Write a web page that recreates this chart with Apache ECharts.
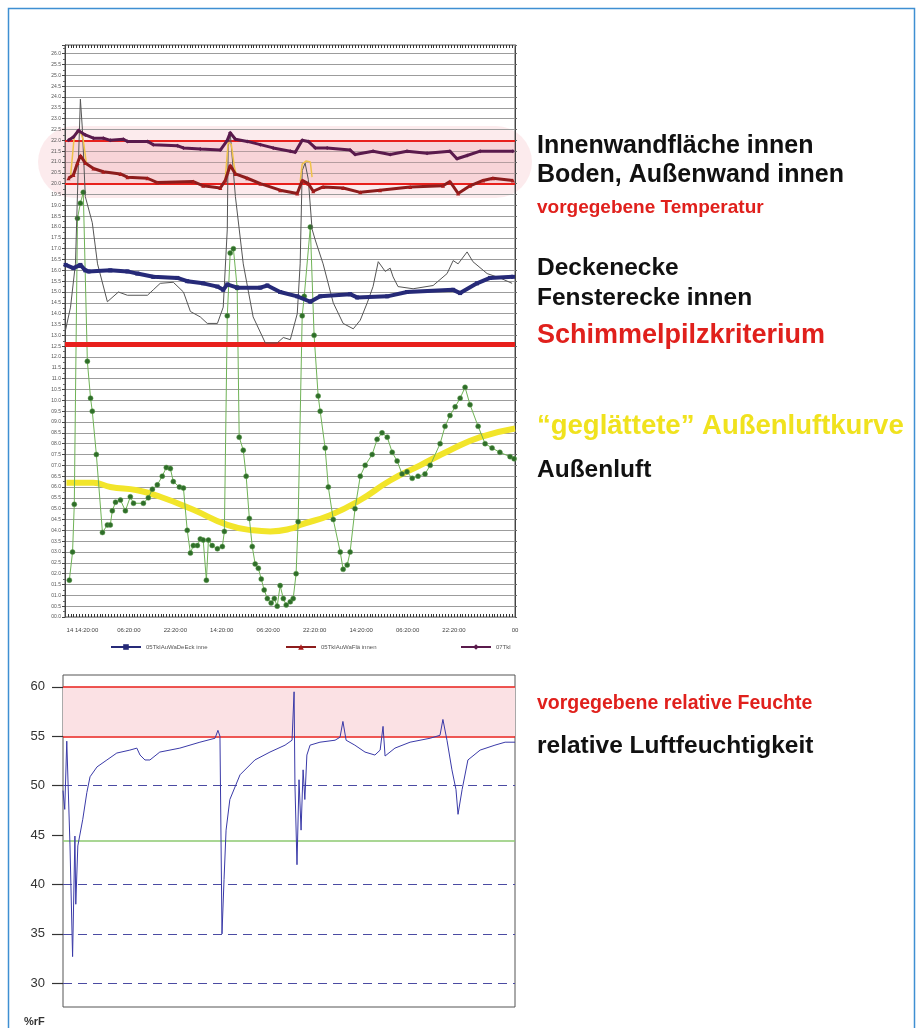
<!DOCTYPE html>
<html>
<head>
<meta charset="utf-8">
<title>Temperatur- und Feuchteverlauf</title>
<script src="https://cdn.jsdelivr.net/npm/echarts@6/dist/echarts.min.js"></script>
<style>
  html, body { margin: 0; padding: 0; background: #fff; }
  #chart { width: 923px; height: 1028px; }
</style>
</head>
<body>
<div id="chart"></div>
<script>
// x values: hours after the first labelled tick (14. 14:20:00)
const timeTicks = [0, 16, 32, 48, 64, 80, 96, 112, 128, 149];
const timeLabels = ['14 14:20:00', '06:20:00', '22:20:00', '14:20:00', '06:20:00',
  '22:20:00', '14:20:00', '06:20:00', '22:20:00', '00'];

const rhTicks = [30, 35, 40, 45, 50, 55, 60];

// 07Tkl - Innenwandfläche innen
const innenwandData = [
  [-4.8, 22.0], [-3.1, 22.15], [-1.4, 22.45], [1.0, 22.25], [3.8, 22.1], [7.2, 22.1],
  [9.6, 22.0], [14.1, 22.05], [15.5, 21.95], [22.4, 21.95], [24.4, 21.8], [32.7, 21.75],
  [34.8, 21.65], [40.6, 21.6], [47.5, 21.55], [49.9, 22.0], [50.9, 22.35], [52.7, 22.05],
  [56.8, 21.95], [61.3, 21.8], [65.7, 21.65], [71.6, 21.5], [73.3, 21.45], [75.7, 22.0],
  [77.8, 21.95], [80.2, 21.65], [84.3, 21.65], [92.2, 21.55], [93.9, 21.35], [100.1, 21.5],
  [106.0, 21.35], [111.8, 21.5], [118.7, 21.4], [126.6, 21.5], [129.0, 21.15], [132.5, 21.3],
  [137.0, 21.5], [148.3, 21.5]
];

// 05TklAuWaFlä innen - Boden, Außenwand innen
const bodenData = [
  [-4.8, 20.25], [-3.1, 20.4], [-1.7, 20.95], [-0.7, 21.3], [1.0, 20.95], [3.8, 20.7],
  [7.2, 20.55], [13.1, 20.45], [15.5, 20.3], [22.4, 20.25], [25.8, 20.05], [38.2, 20.1],
  [41.6, 19.9], [47.5, 19.8], [49.2, 20.15], [50.9, 20.85], [52.7, 20.45], [56.8, 20.25],
  [61.3, 20.0], [68.1, 19.7], [74.0, 19.55], [75.7, 20.15], [77.8, 20.0], [79.5, 19.65],
  [82.9, 19.85], [89.8, 19.8], [95.7, 19.6], [102.5, 19.7], [112.9, 19.85], [124.2, 19.9],
  [126.6, 20.1], [129.4, 19.55], [133.5, 19.9], [138.0, 20.15], [141.4, 20.25], [148.3, 20.15]
];

// 05TklAuWaDeEck inne - Deckenecke
const deckeneckeData = [
  [-5.8, 16.25], [-3.1, 16.1], [-0.7, 16.25], [1.0, 16.0], [2.1, 15.95], [9.6, 16.0],
  [15.5, 15.95], [18.9, 15.85], [24.4, 15.7], [32.7, 15.65], [36.1, 15.5], [41.6, 15.4],
  [46.5, 15.25], [48.5, 15.1], [49.9, 15.35], [53.3, 15.2], [61.3, 15.2], [63.7, 15.3],
  [68.1, 15.0], [74.0, 14.8], [78.5, 14.55], [81.9, 14.8], [92.2, 14.9], [94.6, 14.75],
  [105.0, 14.8], [111.8, 15.0], [127.7, 15.1], [130.1, 14.95], [135.9, 15.4], [140.4, 15.65],
  [148.3, 15.7]
];

// Fensterecke innen
const fensterData = [
  [-5.8, 13.25], [-4.1, 14.3], [-2.4, 16.3], [-1.4, 20.9], [-0.7, 23.9], [0.0, 22.5],
  [1.0, 19.4], [3.4, 18.2], [5.2, 16.3], [8.6, 14.55], [12.4, 15.0], [15.5, 14.85],
  [22.4, 14.85], [24.4, 15.1], [26.8, 15.4], [31.3, 15.45], [34.8, 15.0], [37.2, 14.1],
  [40.6, 13.85], [43.0, 13.55], [46.5, 13.55], [48.5, 14.3], [49.9, 17.9], [50.2, 21.7],
  [50.9, 22.35], [52.7, 19.4], [55.4, 16.3], [58.8, 13.85], [63.0, 12.65], [67.1, 12.65],
  [69.2, 12.9], [71.6, 12.8], [74.0, 14.0], [75.0, 16.3], [75.7, 20.6], [76.7, 20.95],
  [77.8, 20.2], [79.1, 17.9], [80.2, 17.4], [82.9, 16.3], [86.4, 14.5], [89.8, 13.55],
  [93.3, 13.3], [95.7, 13.7], [98.1, 14.5], [100.1, 15.25], [101.9, 16.4], [104.3, 15.95],
  [106.0, 16.1], [107.0, 15.7], [108.7, 15.25], [113.9, 15.15], [120.8, 15.3], [125.6, 15.85],
  [127.7, 16.45], [129.4, 16.3], [132.5, 16.85], [134.5, 16.4], [139.4, 15.85], [143.8, 15.65],
  [148.0, 15.4]
];

// Außenluft
const aussenluftData = [
  [-4.5, 1.7], [-3.4, 3.0], [-2.8, 5.2], [-1.7, 18.4], [-0.7, 19.1], [0.3, 19.6], [1.7, 11.8],
  [2.8, 10.1], [3.4, 9.5], [4.8, 7.5], [6.9, 3.9], [8.6, 4.25], [9.6, 4.25], [10.3, 4.9],
  [11.4, 5.3], [13.1, 5.4], [14.8, 4.9], [16.5, 5.55], [17.6, 5.25], [21.0, 5.25], [22.7, 5.5],
  [24.1, 5.9], [25.8, 6.1], [27.5, 6.5], [28.9, 6.9], [30.3, 6.85], [31.3, 6.25], [33.4, 6.0],
  [34.8, 5.95], [36.1, 4.0], [37.2, 2.95], [38.2, 3.3], [39.6, 3.3], [40.6, 3.6], [41.6, 3.55],
  [42.7, 1.7], [43.4, 3.55], [44.7, 3.3], [46.5, 3.15], [48.2, 3.25], [48.9, 3.95], [49.9, 13.9],
  [50.9, 16.8], [52.0, 17.0], [53.3, 15.2], [54.0, 8.3], [55.4, 7.7], [56.4, 6.5], [57.5, 4.55],
  [58.5, 3.25], [59.5, 2.45], [60.6, 2.25], [61.6, 1.75], [62.6, 1.25], [63.7, 0.85], [65.0, 0.65],
  [66.1, 0.85], [67.1, 0.5], [68.1, 1.45], [69.2, 0.85], [70.2, 0.55], [71.6, 0.7], [72.6, 0.85],
  [73.6, 2.0], [74.3, 4.4], [75.7, 13.9], [76.4, 14.8], [78.5, 18.0], [79.8, 13.0], [81.2, 10.2],
  [81.9, 9.5], [83.6, 7.8], [84.7, 6.0], [86.4, 4.5], [88.8, 3.0], [89.8, 2.2], [91.2, 2.4],
  [92.2, 3.0], [93.9, 5.0], [95.7, 6.5], [97.4, 7.0], [99.8, 7.5], [101.5, 8.2], [103.2, 8.5],
  [105.0, 8.3], [106.7, 7.6], [108.4, 7.2], [110.1, 6.6], [111.8, 6.7], [113.6, 6.4], [115.6, 6.5],
  [118.0, 6.6], [119.8, 7.0], [123.2, 8.0], [124.9, 8.8], [126.6, 9.3], [128.4, 9.7], [130.1, 10.1],
  [131.8, 10.6], [133.5, 9.8], [136.3, 8.8], [138.7, 8.0], [141.1, 7.8], [143.8, 7.6], [147.3, 7.4],
  [148.7, 7.3]
];

// "geglättete" Außenluftkurve
const glattData = [
  [-5.5, 6.2], [3.8, 6.2], [9.6, 6.0], [18.9, 5.85], [26.8, 5.55], [38.2, 4.95], [49.9, 4.25],
  [58.8, 4.0], [64.7, 3.95], [72.6, 4.1], [75.0, 4.25], [85.3, 4.7], [95.7, 5.4], [106.0, 6.3],
  [116.3, 7.0], [126.6, 7.7], [137.0, 8.3], [149.0, 8.7]
];

// thin yellow curve, only visible at the three heating peaks
const peakSegments = [
  [[-4.1, 20.3], [-2.8, 22.2], [-1.7, 22.35], [-0.7, 22.4], [0.3, 22.0], [1.4, 20.9]],
  [[49.2, 20.2], [50.2, 21.9], [51.3, 21.8], [52.3, 20.8], [53.0, 20.4]],
  [[75.0, 20.1], [75.7, 20.9], [77.1, 21.05], [78.5, 21.0], [79.1, 20.3]]
];

const tempBand = [20, 22];
const schimmelLevel = 12.6;

// relative Luftfeuchtigkeit
const rhData = [
  [-6.5, 49.5], [-5.9, 47.6], [-5.2, 54.5], [-4.1, 44.0], [-3.2, 32.7], [-2.4, 44.9],
  [-2.1, 38.0], [-1.4, 43.9], [0.3, 46.6], [1.7, 49.3], [2.8, 50.9], [5.2, 51.9], [8.6, 52.6],
  [12.0, 53.3], [16.5, 53.6], [18.9, 53.8], [20.0, 53.1], [21.7, 52.6], [23.4, 52.6], [26.8, 53.4],
  [33.7, 53.8], [40.6, 54.4], [45.8, 54.8], [46.8, 55.6], [47.5, 55.0], [48.2, 35.0], [48.9, 40.5],
  [49.6, 45.5], [50.9, 48.6], [54.4, 51.1], [59.5, 52.6], [64.7, 53.4], [69.9, 54.1], [72.3, 54.6],
  [73.0, 59.5], [73.3, 50.0], [74.0, 42.0], [74.7, 50.6], [75.4, 45.5], [76.1, 51.6], [76.7, 48.6],
  [77.4, 53.1], [78.5, 54.1], [81.9, 54.4], [87.1, 54.6], [88.8, 54.9], [89.8, 56.5], [90.9, 54.6],
  [93.9, 54.1], [97.4, 53.4], [100.8, 53.1], [102.6, 53.6], [103.6, 56.0], [104.3, 53.0],
  [107.7, 53.8], [112.9, 54.4], [119.8, 54.8], [123.2, 55.1], [124.2, 56.7], [125.6, 54.6],
  [127.3, 51.6], [128.7, 49.6], [129.4, 47.1], [130.8, 49.6], [132.8, 52.6], [137.0, 53.6],
  [142.1, 54.1], [145.6, 54.4], [149.0, 54.4]
];

const rhBand = [55, 60];
const rhGreenLevel = 44.4;
const rhDashLevels = [50, 40, 35, 30];

const chart = echarts.init(document.getElementById('chart'));

const labelByTime = {};
timeTicks.forEach((t, i) => { labelByTime[t] = timeLabels[i]; });

// small hourly ticks along the time axis
const hourTicks = [];
for (let h = -5; h <= 148; h++) hourTicks.push(h);

const fmtTemp = v => {
  if (Math.abs(v * 2 - Math.round(v * 2)) > 1e-6) return '';
  const s = v.toFixed(1);
  return v < 10 ? '0' + s : s;
};

const FONT = '"Liberation Sans", Arial, sans-serif';

const sideText = (text, y, size, color) => ({
  type: 'text',
  left: 537,
  top: y - size / 2,
  style: { text, fill: color, font: `bold ${size}px ${FONT}` }
});

const legendBase = {
  top: 639,
  itemWidth: 30,
  itemHeight: 7,
  textStyle: { fontSize: 6, color: '#555', fontFamily: FONT }
};

const option = {
  backgroundColor: '#fff',
  animation: false,
  textStyle: { fontFamily: FONT },
  graphic: [
    {
      type: 'rect', z: -1, silent: true,
      shape: { x: 8.5, y: 8.5, width: 906, height: 1040 },
      style: { fill: 'none', stroke: '#3f8fd2', lineWidth: 1.5 }
    },
    {
      type: 'rect', z: -1, silent: true,
      shape: { x: 38, y: 126, width: 494, height: 72, r: 36 },
      style: { fill: 'rgba(240,165,175,0.22)' }
    },
    sideText('Innenwandfläche innen', 146, 25, '#111'),
    sideText('Boden, Außenwand innen', 175, 25, '#111'),
    sideText('vorgegebene Temperatur', 208, 19, '#e0201c'),
    sideText('Deckenecke', 268, 24.5, '#111'),
    sideText('Fensterecke innen', 298, 24.5, '#111'),
    sideText('Schimmelpilzkriterium', 336, 27, '#e0201c'),
    sideText('\u201Cgeglättete\u201D Außenluftkurve', 426, 27.5, '#f0e21e'),
    sideText('Außenluft', 470, 24.5, '#111'),
    sideText('vorgegebene relative Feuchte', 703, 19.5, '#e0201c'),
    sideText('relative Luftfeuchtigkeit', 746, 24.5, '#111'),
    {
      type: 'text', left: 24, top: 1016,
      style: { text: '%rF', fill: '#333', font: `bold 11px ${FONT}` }
    }
  ],
  legend: [
    Object.assign({ left: 105, data: ['05TklAuWaDeEck inne'] }, legendBase),
    Object.assign({ left: 280, data: ['05TklAuWaFlä innen'] }, legendBase),
    Object.assign({ left: 455, data: ['07Tkl'] }, legendBase)
  ],
  grid: [
    { left: 65, top: 45, width: 450, height: 572, show: true, borderColor: '#555', borderWidth: 1 },
    { left: 63, top: 675, width: 452, height: 332, show: true, borderColor: '#555', borderWidth: 1 }
  ],
  xAxis: [
    {
      gridIndex: 0, type: 'value', min: -6, max: 149, position: 'bottom',
      axisLine: { show: false, onZero: false },
      axisTick: { show: true, inside: true, length: 3, customValues: hourTicks,
        lineStyle: { color: '#333' } },
      axisLabel: { customValues: timeTicks, formatter: v => labelByTime[v] || '',
        fontSize: 6, color: '#444', margin: 10 },
      splitLine: { show: false }
    },
    {
      gridIndex: 0, type: 'value', min: -6, max: 149, position: 'top',
      axisLine: { show: false, onZero: false },
      axisTick: { show: true, inside: true, length: 3, customValues: hourTicks,
        lineStyle: { color: '#333' } },
      axisLabel: { show: false },
      splitLine: { show: false }
    },
    { gridIndex: 1, type: 'value', min: -6.5, max: 149, show: false }
  ],
  yAxis: [
    {
      gridIndex: 0, type: 'value', min: 0, max: 26.4, interval: 0.5, position: 'left',
      axisLine: { show: true, onZero: false, lineStyle: { color: '#444' } },
      axisTick: { show: true, length: 3, lineStyle: { color: '#444' } },
      minorTick: { show: true, splitNumber: 2, length: 2, lineStyle: { color: '#666' } },
      axisLabel: { formatter: fmtTemp, fontSize: 5, color: '#555', margin: 4 },
      splitLine: { show: true, lineStyle: { color: '#9c9c9c', width: 1 } }
    },
    {
      gridIndex: 0, type: 'value', min: 0, max: 26.4, interval: 0.5, position: 'right',
      axisLine: { show: true, onZero: false, lineStyle: { color: '#444' } },
      axisTick: { show: true, length: 2, lineStyle: { color: '#666' } },
      axisLabel: { show: false },
      splitLine: { show: false }
    },
    {
      gridIndex: 1, type: 'value', min: 27.6, max: 61.2, position: 'left',
      axisLine: { show: false, onZero: false },
      axisTick: { show: true, length: 11, customValues: rhTicks,
        lineStyle: { color: '#333', width: 1.2 } },
      axisLabel: { customValues: rhTicks, fontSize: 13, color: '#333', margin: 18 },
      splitLine: { show: false }
    }
  ],
  series: [
    {
      name: 'geglättete Außenluftkurve', type: 'line', xAxisIndex: 0, yAxisIndex: 0,
      data: glattData, smooth: true, symbol: 'none', z: 3,
      lineStyle: { color: '#f2e52a', width: 6 },
      markArea: {
        silent: true,
        itemStyle: { color: 'rgba(240,160,170,0.3)' },
        data: [[{ yAxis: tempBand[0] }, { yAxis: tempBand[1] }]]
      },
      markLine: {
        silent: true, symbol: ['none', 'circle'], symbolSize: [0, 7],
        label: { show: false },
        lineStyle: { color: '#e8201c', width: 5, type: 'solid' },
        data: [{ yAxis: schimmelLevel }]
      }
    },
    {
      name: 'Außenluft', type: 'line', xAxisIndex: 0, yAxisIndex: 0,
      data: aussenluftData, symbol: 'circle', symbolSize: 5, z: 4,
      lineStyle: { color: '#6fb356', width: 1 },
      itemStyle: { color: '#2f6e2a', borderColor: '#5c9a4c', borderWidth: 0.5 }
    },
    {
      name: 'Fensterecke innen', type: 'line', xAxisIndex: 0, yAxisIndex: 0,
      data: fensterData, symbol: 'none', z: 5,
      lineStyle: { color: '#555', width: 1 }
    },
    {
      name: '05TklAuWaDeEck inne', type: 'line', xAxisIndex: 0, yAxisIndex: 0,
      data: deckeneckeData, symbol: 'rect', symbolSize: 4, z: 6,
      lineStyle: { color: '#262a78', width: 4 },
      itemStyle: { color: '#262a78' }
    },
    ...peakSegments.map(seg => ({
      type: 'line', xAxisIndex: 0, yAxisIndex: 0, data: seg, symbol: 'none', z: 6,
      lineStyle: { color: '#efc24a', width: 1.5 }
    })),
    {
      name: '05TklAuWaFlä innen', type: 'line', xAxisIndex: 0, yAxisIndex: 0,
      data: bodenData, symbol: 'triangle', symbolSize: 4, z: 7,
      lineStyle: { color: '#8c1c1c', width: 3 },
      itemStyle: { color: '#a81a1a' },
      markLine: {
        silent: true, symbol: 'none', label: { show: false },
        lineStyle: { color: '#e8201c', width: 2, type: 'solid' },
        data: tempBand.map(v => ({ yAxis: v }))
      }
    },
    {
      name: '07Tkl', type: 'line', xAxisIndex: 0, yAxisIndex: 0,
      data: innenwandData, symbol: 'diamond', symbolSize: 4, z: 8,
      lineStyle: { color: '#5a1a4c', width: 3 },
      itemStyle: { color: '#5a1a4c' }
    },
    {
      name: 'relative Luftfeuchtigkeit', type: 'line', xAxisIndex: 2, yAxisIndex: 2,
      data: rhData, symbol: 'none', z: 5,
      lineStyle: { color: '#3a3aa8', width: 1 },
      markArea: {
        silent: true,
        itemStyle: { color: '#fbe1e4' },
        data: [[{ yAxis: rhBand[0] }, { yAxis: rhBand[1] }]]
      },
      markLine: {
        silent: true, symbol: 'none', label: { show: false },
        data: [
          ...rhBand.map(v => ({ yAxis: v, lineStyle: { color: '#e8201c', width: 1.5, type: 'solid' } })),
          { yAxis: rhGreenLevel, lineStyle: { color: '#8cc870', width: 1.5, type: 'solid' } },
          ...rhDashLevels.map(v => ({ yAxis: v, lineStyle: { color: '#4b4ba2', width: 1.2, type: [9, 6] } }))
        ]
      }
    }
  ]
};

chart.setOption(option);
</script>
</body>
</html>
